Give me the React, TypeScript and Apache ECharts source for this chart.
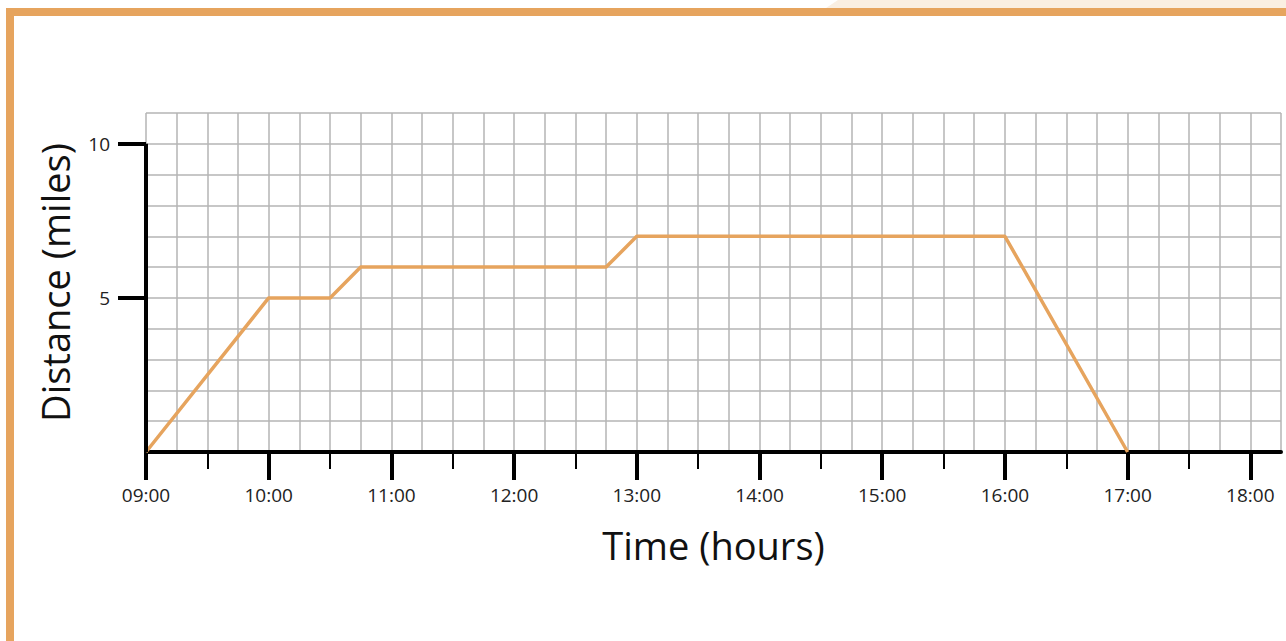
import React, { useEffect, useRef } from "react";
import * as echarts from "echarts";

// Data: time in hours (decimal), distance in miles
const times = [9, 10, 10.5, 10.75, 12.75, 13, 16, 17];
const distances = [0, 5, 5, 6, 6, 7, 7, 0];

const hourTicks = [9, 10, 11, 12, 13, 14, 15, 16, 17, 18];
const halfHourTicks = [9.5, 10.5, 11.5, 12.5, 13.5, 14.5, 15.5, 16.5, 17.5];
const yLabelTicks = [5, 10];

const xMin = 9;
const xMax = 18.25;
const yMin = 0;
const yMax = 11;
const yAxisTop = 10;

const ORANGE = "#E6A45E";
const FONT = "'Open Sans', Lato, sans-serif";

function fmtTime(v: number) {
  const h = Math.floor(v);
  const m = Math.round((v - h) * 60);
  return `${String(h).padStart(2, "0")}:${String(m).padStart(2, "0")}`;
}

export default function App() {
  const ref = useRef<HTMLDivElement>(null);

  useEffect(() => {
    if (!ref.current) return;
    const chart = echarts.init(ref.current, undefined, { renderer: "svg" });
    const gridColor = "#b5b5b5";
    chart.setOption({
      animation: false,
      backgroundColor: "#ffffff",
      textStyle: { fontFamily: FONT },
      grid: { left: 146, top: 113, right: 5, bottom: 189, containLabel: false },
      graphic: [
        {
          type: "polygon",
          shape: { points: [[826, 8], [838, 0], [1286, 0], [1286, 8]] },
          style: { fill: "#FAEFE2" },
          z: 1,
        },
        { type: "rect", shape: { x: 6, y: 8, width: 1280, height: 8 }, style: { fill: ORANGE }, z: 2 },
        { type: "rect", shape: { x: 6, y: 8, width: 8, height: 633 }, style: { fill: ORANGE }, z: 2 },
      ],
      xAxis: [
        {
          type: "value",
          min: xMin,
          max: xMax,
          interval: 0.25,
          axisLine: { show: false },
          axisTick: { show: false },
          axisLabel: { show: false },
          splitLine: { show: true, lineStyle: { color: gridColor, width: 1.5 } },
        },
        {
          type: "value",
          min: xMin,
          max: xMax,
          position: "bottom",
          axisLine: { show: true, onZero: false, lineStyle: { color: "#000", width: 4 } },
          axisTick: { show: true, customValues: hourTicks, length: 28, lineStyle: { color: "#000", width: 4 } },
          axisLabel: {
            show: true,
            customValues: hourTicks,
            margin: 33,
            fontSize: 19,
            color: "#222",
            fontFamily: FONT,
            formatter: (v: number) => fmtTime(v),
          },
          splitLine: { show: false },
          name: "Time (hours)",
          nameLocation: "middle",
          nameGap: 74,
          nameTextStyle: { fontSize: 38, color: "#111", fontFamily: FONT },
        },
        {
          type: "value",
          min: xMin,
          max: xMax,
          position: "bottom",
          axisLine: { show: false },
          axisTick: { show: true, customValues: halfHourTicks, length: 17, lineStyle: { color: "#000", width: 2 } },
          axisLabel: { show: false },
          splitLine: { show: false },
        },
      ],
      yAxis: [
        {
          type: "value",
          min: yMin,
          max: yMax,
          axisLine: { show: false },
          axisTick: { show: true, customValues: yLabelTicks, length: 28, lineStyle: { color: "#000", width: 4 } },
          axisLabel: {
            show: true,
            customValues: yLabelTicks,
            margin: 36,
            fontSize: 19,
            color: "#222",
            fontFamily: FONT,
          },
          splitLine: { show: false },
          name: "Distance (miles)",
          nameLocation: "middle",
          nameGap: 72,
          nameRotate: 90,
          nameTextStyle: { fontSize: 38, color: "#111", fontFamily: FONT },
        },
        {
          type: "value",
          min: yMin,
          max: yMax,
          interval: 1,
          position: "left",
          axisLine: { show: false },
          axisTick: { show: false },
          axisLabel: { show: false },
          splitLine: { show: true, lineStyle: { color: gridColor, width: 1.5 } },
        },
      ],
      series: [
        {
          type: "line",
          xAxisIndex: 1,
          yAxisIndex: 0,
          data: times.map((t, i) => [t, distances[i]]),
          symbol: "none",
          lineStyle: { color: ORANGE, width: 3.5 },
          z: 3,
          markLine: {
            silent: true,
            symbol: ["none", "none"],
            label: { show: false },
            lineStyle: { color: "#000", width: 4, type: "solid" },
            data: [[{ coord: [xMin, yMin] }, { coord: [xMin, yAxisTop] }]],
          },
        },
      ],
    });
    return () => chart.dispose();
  }, []);

  return (
    <div
      ref={ref}
      style={{ position: "fixed", left: 0, top: 0, width: 1286, height: 641 }}
    />
  );
}
